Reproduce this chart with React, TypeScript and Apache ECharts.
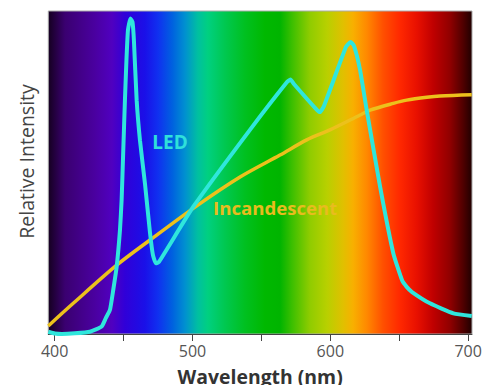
import React, { useEffect, useRef } from "react";
import * as echarts from "echarts";

const ledWavelength = [395.4, 400.2, 405.3, 414.7, 425.6, 434.1, 437.2, 440.1, 442.5, 445.0, 447.4, 448.6, 449.8, 451.0, 452.1, 453.2, 455.0, 456.5, 457.5, 459.5, 461.9, 465.5, 469.2, 471.3, 473.5, 475.7, 500.6, 541.7, 568.6, 571.1, 573.6, 589.6, 592.5, 595.4, 611.4, 614.7, 617.2, 621.6, 626.4, 636.1, 645.7, 652.0, 655.4, 659.3, 672.3, 689.3, 702.6];
const ledIntensity = [0.7, 0.15, 0, 0.2, 0.7, 2.3, 5.0, 7.4, 13.6, 20.8, 32.2, 41.5, 57, 72.4, 84.8, 94.1, 97.7, 96.6, 91, 72.4, 60, 46.7, 31.3, 24.5, 21.9, 22.3, 39.4, 63.2, 78, 78.8, 77.4, 69.7, 68.7, 70.6, 88.9, 90.4, 89.2, 81.7, 69.3, 45.6, 25, 16.7, 14.6, 13, 9.5, 6.4, 5.6];

const incWavelength = [395.4, 413.5, 445.0, 469.2, 501.8, 534.5, 563.5, 582.9, 599.8, 621.6, 628.8, 645.7, 655.4, 670.0, 679.6, 702.6];
const incIntensity = [2.5, 9.5, 21.3, 29.1, 39.3, 48.6, 55.4, 60.1, 63.2, 67.8, 69.3, 71.4, 72.4, 73.3, 73.7, 74.1];

const tickValues = [400, 450, 500, 550, 600, 650, 700];
const labelValues = [400, 500, 600, 700];

const spectrumStops: [number, string][] = [
  [48, "#150020"], [65, "#3a0070"], [95, "#4a00a0"], [112, "#5000c0"], [125, "#3000d8"],
  [145, "#1a10e8"], [158, "#1030f0"], [172, "#0060e0"], [185, "#0090d0"], [198, "#00c0a0"],
  [208, "#00d080"], [225, "#00c850"], [245, "#00c020"], [265, "#00b800"], [280, "#00b400"],
  [293, "#40c000"], [310, "#90cc00"], [327, "#b8d000"], [343, "#e0c000"], [353, "#f8b000"],
  [367, "#ff8800"], [383, "#ff5000"], [400, "#ff2800"], [417, "#e81000"], [433, "#c00000"],
  [450, "#900000"], [463, "#500000"], [472, "#200000"],
];

const FONT = "'Open Sans', 'Noto Sans', sans-serif";

export default function App() {
  const ref = useRef<HTMLDivElement>(null);
  useEffect(() => {
    if (!ref.current) return;
    const chart = echarts.init(ref.current, null, { renderer: "svg" });
    const gl = 48.3, gr = 472;
    const stops = spectrumStops.map(([x, c]) => ({
      offset: Math.min(1, Math.max(0, (x - gl) / (gr - gl))),
      color: c,
    }));
    chart.setOption({
      animation: false,
      textStyle: { fontFamily: FONT },
      grid: {
        left: 48.3, right: 21, top: 11, bottom: 51,
        containLabel: false,
        outerBoundsMode: "none",
        show: true,
        borderColor: "#aaaaaa",
        borderWidth: 1,
        backgroundColor: new echarts.graphic.LinearGradient(0, 0, 1, 0, stops),
      },
      xAxis: {
        type: "value",
        min: 395.4,
        max: 702.8,
        name: "Wavelength (nm)",
        nameLocation: "middle",
        nameGap: 42,
        nameTextStyle: { fontSize: 19.4, fontWeight: "bold", color: "#333", fontFamily: FONT, verticalAlign: "middle" },
        axisLine: { show: true, lineStyle: { color: "#444", width: 1 } },
        axisTick: { show: true, customValues: tickValues, length: 7, lineStyle: { color: "#444" } },
        axisLabel: { customValues: labelValues, fontSize: 16, color: "#555", margin: 9, fontFamily: FONT },
        splitLine: { show: false },
      },
      yAxis: {
        type: "value",
        min: 0,
        max: 100,
        axisLine: { show: false },
        axisTick: { show: false },
        axisLabel: { show: false },
        splitLine: { show: false },
      },
      series: [
        {
          name: "Incandescent",
          type: "line",
          data: incWavelength.map((w, i) => [w, incIntensity[i]]),
          showSymbol: false,
          smooth: 0.3,
          lineStyle: { color: "#ECC11C", width: 3.5 },
        },
        {
          name: "LED",
          type: "line",
          data: ledWavelength.map((w, i) => [w, ledIntensity[i]]),
          showSymbol: false,
          smooth: 0.15,
          lineStyle: { color: "#2FE6DC", width: 4 },
        },
      ],
      graphic: [
        {
          type: "text",
          x: 26,
          y: 161.5,
          rotation: Math.PI / 2,
          style: {
            text: "Relative Intensity",
            fontSize: 19.5,
            fontFamily: FONT,
            fill: "#444",
            textAlign: "center",
            textVerticalAlign: "middle",
          },
        },
        {
          type: "text",
          x: 170,
          y: 142,
          style: {
            text: "LED",
            fontSize: 19,
            fontWeight: "bold",
            fontFamily: FONT,
            fill: "#2FE0DA",
            textAlign: "center",
            textVerticalAlign: "middle",
          },
        },
        {
          type: "text",
          x: 213,
          y: 207,
          style: {
            text: "Incandescent",
            fontSize: 18.6,
            fontWeight: "bold",
            fontFamily: FONT,
            fill: "#E8BC1E",
            textAlign: "left",
            textVerticalAlign: "middle",
          },
        },
      ],
    });
    return () => chart.dispose();
  }, []);
  return <div ref={ref} style={{ position: "absolute", left: 0, top: 0, width: 493, height: 385 }} />;
}
